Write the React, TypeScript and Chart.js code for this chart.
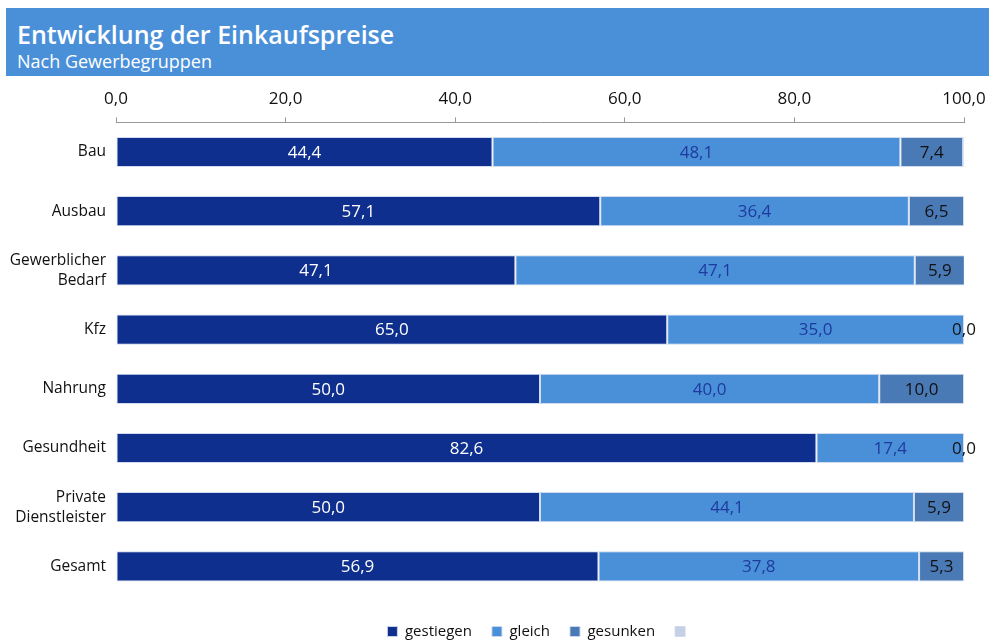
import { useEffect, useRef } from 'react';
import { Chart, registerables } from 'chart.js';

Chart.register(...registerables);

const categories: (string | string[])[] = [
  'Bau',
  'Ausbau',
  ['Gewerblicher', 'Bedarf'],
  'Kfz',
  'Nahrung',
  'Gesundheit',
  ['Private', 'Dienstleister'],
  'Gesamt',
];
const gestiegen = [44.4, 57.1, 47.1, 65.0, 50.0, 82.6, 50.0, 56.9];
const gleich = [48.1, 36.4, 47.1, 35.0, 40.0, 17.4, 44.1, 37.8];
const gesunken = [7.4, 6.5, 5.9, 0.0, 10.0, 0.0, 5.9, 5.3];
const keineAngabe = [0.1, 0, 0, 0, 0, 0, 0, 0];
const seriesNames = ['gestiegen', 'gleich', 'gesunken', ''];
const xTickMin = 0;
const xTickMax = 100;
const xTickStep = 20;

const FONT = '"Open Sans", "Noto Sans", sans-serif';
const colors = ['#0f2f8f', '#4a90d9', '#4a7ab5', '#c5cfe6'];
const labelColors = ['#ffffff', '#1f3a9e', '#111111'];

const fmt = (v: number) => v.toFixed(1).replace('.', ',');

const valueLabels = {
  id: 'valueLabels',
  afterDatasetsDraw(chart: any) {
    const ctx = chart.ctx;
    ctx.save();
    ctx.font = `17px ${FONT}`;
    ctx.textAlign = 'center';
    ctx.textBaseline = 'middle';
    for (let d = 0; d < 3; d++) {
      const meta = chart.getDatasetMeta(d);
      const data = chart.data.datasets[d].data as number[];
      meta.data.forEach((el: any, i: number) => {
        const cx = (el.x + el.base) / 2;
        ctx.fillStyle = labelColors[d];
        ctx.fillText(fmt(data[i]), cx, el.y + 1);
      });
    }
    ctx.restore();
  },
};

const legendShift = {
  id: 'legendShift',
  afterLayout(chart: any) {
    if (chart.legend) {
      chart.legend.top += 8;
      chart.legend.bottom += 8;
    }
  },
};

export default function App() {
  const ref = useRef<HTMLCanvasElement>(null);
  useEffect(() => {
    if (!ref.current) return;
    const seriesData = [gestiegen, gleich, gesunken, keineAngabe];
    const chart = new Chart(ref.current, {
      type: 'bar',
      data: {
        labels: categories as any,
        datasets: seriesData.map((d, i) => ({
          label: seriesNames[i],
          data: d,
          backgroundColor: colors[i],
          borderColor: 'rgba(205,216,236,0.9)',
          borderWidth: 1,
          borderSkipped: false,
          barPercentage: 0.51,
          categoryPercentage: 1,
        })),
      },
      options: {
        indexAxis: 'y',
        responsive: false,
        animation: false,
        layout: { padding: { top: 81, right: 25, bottom: 0, left: 0 } },
        scales: {
          x: {
            position: 'top',
            stacked: true,
            min: xTickMin,
            max: xTickMax,
            ticks: {
              stepSize: xTickStep,
              callback: (v: any) => fmt(Number(v)),
              font: { family: FONT, size: 17 },
              color: '#111',
              padding: 8,
              maxRotation: 0,
            },
            grid: { drawOnChartArea: false, tickLength: 5, color: '#999' },
            border: { color: '#999' },
            afterFit: (s: any) => {
              s.paddingRight = 0;
              s.paddingLeft = 0;
            },
          },
          y: {
            stacked: true,
            grid: { display: false },
            border: { display: false },
            ticks: {
              font: { family: FONT, size: 15.5, lineHeight: 1.3 },
              color: '#111',
              padding: 2,
            },
            afterFit: (s: any) => {
              s.width = 116;
            },
          },
        },
        plugins: {
          legend: {
            position: 'bottom',
            fullSize: false,
            labels: {
              boxWidth: 10,
              boxHeight: 10,
              padding: 20,
              color: '#111',
              font: { family: FONT, size: 15 },
            },
          },
          tooltip: { enabled: false },
          title: { display: false },
        },
      },
      plugins: [valueLabels, legendShift],
    });
    return () => chart.destroy();
  }, []);

  return (
    <div style={{ position: 'absolute', left: 0, top: 0, width: 989, height: 641 }}>
      <canvas ref={ref} width={989} height={641} style={{ position: 'absolute', left: 0, top: 0 }} />
      <div
        style={{
          position: 'absolute',
          left: 6,
          top: 8,
          width: 983,
          height: 68,
          background: '#4a90d9',
          color: '#fff',
          fontFamily: FONT,
        }}
      >
        <div style={{ position: 'absolute', left: 11, top: 9, fontSize: 25, fontWeight: 600, lineHeight: '34px', whiteSpace: 'nowrap' }}>
          Entwicklung der Einkaufspreise
        </div>
        <div style={{ position: 'absolute', left: 11, top: 41, fontSize: 18, lineHeight: '24px', whiteSpace: 'nowrap' }}>
          Nach Gewerbegruppen
        </div>
      </div>
    </div>
  );
}
